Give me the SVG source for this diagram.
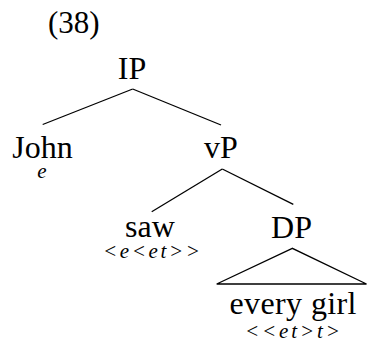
<svg xmlns="http://www.w3.org/2000/svg" width="367" height="345" viewBox="0 0 367 345">
  <style>
    .lbl { font-family: "Liberation Serif", "Times New Roman", serif; font-size: 32px; fill: #000; text-anchor: middle; }
    .typ { font-family: "Liberation Serif", "Times New Roman", serif; font-size: 21px; font-style: italic; fill: #000; text-anchor: middle; }
    .num { font-family: "Liberation Serif", "Times New Roman", serif; font-size: 31px; fill: #000; }
    .edge { stroke: #000; stroke-width: 1.3; fill: none; }
  </style>
  <rect width="367" height="345" fill="#fff"/>

  <text class="num" x="48" y="33">(38)</text>

  <g id="connectors">
    <line class="edge" x1="132.7" y1="89" x2="42.7" y2="124.5"/>
    <line class="edge" x1="132.7" y1="89" x2="221" y2="125"/>
    <line class="edge" x1="222.3" y1="169" x2="151.7" y2="211.7"/>
    <line class="edge" x1="222.3" y1="169" x2="293.3" y2="204.3"/>
    <polygon class="edge" points="292.3,248.3 216.7,284 366.5,284"/>
  </g>

  <g id="node-ip">
    <text class="lbl" x="132" y="79">IP</text>
  </g>
  <g id="node-john">
    <text class="lbl" x="42.5" y="158">John</text>
    <text class="typ" x="42" y="177.5">e</text>
  </g>
  <g id="node-vp">
    <text class="lbl" x="221" y="158">vP</text>
  </g>
  <g id="node-saw">
    <text class="lbl" x="150" y="237">saw</text>
    <text class="typ" x="151.5" y="257.5" textLength="97" lengthAdjust="spacing">&lt;e&lt;et&gt;&gt;</text>
  </g>
  <g id="node-dp">
    <text class="lbl" x="291.5" y="238">DP</text>
  </g>
  <g id="node-every-girl">
    <text class="lbl" x="293" y="313.5" textLength="127" lengthAdjust="spacing">every girl</text>
    <text class="typ" x="292.5" y="337.5" textLength="95" lengthAdjust="spacing">&lt;&lt;et&gt;t&gt;</text>
  </g>
</svg>
